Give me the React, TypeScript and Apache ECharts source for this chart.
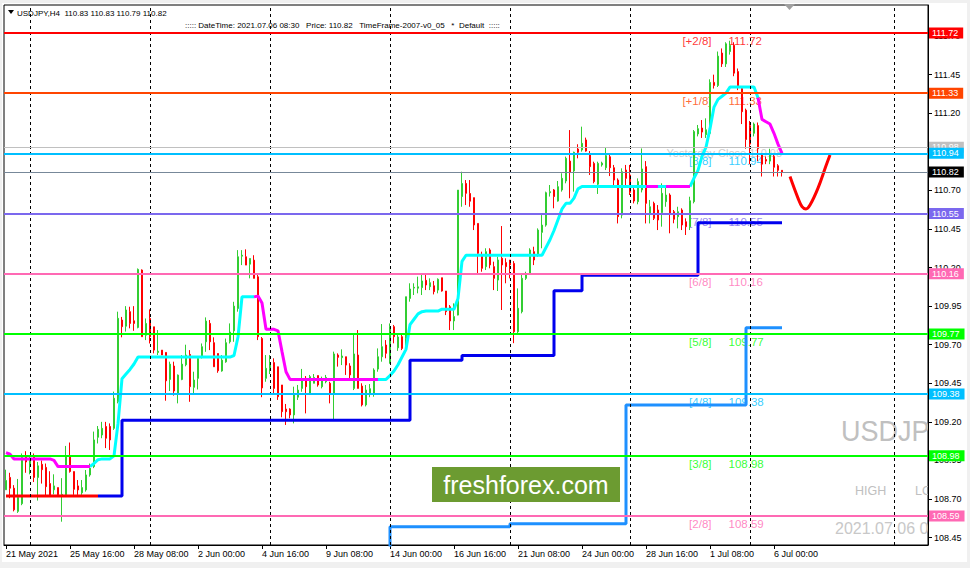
import React, { useEffect, useRef } from "react";
import * as echarts from "echarts";

// ---------- data ----------
const headerLine = "USDJPY,H4  110.83 110.83 110.79 110.82";
const infoLine = "::::: DateTime: 2021.07.06 08:30   Price: 110.82   TimeFrame-2007-v0_05   *  Default  :::::";
const watermarkSymbol = "USDJPY";
const watermarkHigh = "HIGH";
const watermarkLow = "LOW";
const watermarkTime = "2021.07.06 08:30";
const logoText = "freshforex.com";

const tickLabels = [
  "21 May 2021", "25 May 16:00", "28 May 08:00", "2 Jun 00:00", "4 Jun 16:00",
  "9 Jun 08:00", "14 Jun 00:00", "16 Jun 16:00", "21 Jun 08:00", "24 Jun 00:00",
  "28 Jun 16:00", "1 Jul 08:00", "6 Jul 00:00",
];
const barsPerTick = 16;
const futureBars = 36;
const weeklyGridBars = [6, 36, 66, 96, 126, 156, 186, 222];
const yTicks = [108.45, 108.7, 108.95, 109.2, 109.45, 109.7, 109.95, 110.2, 110.45, 110.7, 110.95, 111.2, 111.45, 111.7];
const yMin = 108.402;
const yMax = 111.9015;

// [open, close, low, high]
const ohlc: number[][] = [
  [108.76,108.82,108.76,108.89],[108.84,108.77,108.705,108.87],[108.77,108.63,108.62,108.79],[108.62,108.71,108.61,108.83],
  [108.67,108.97,108.66,108.995],[108.975,108.94,108.87,109.01],[108.92,108.96,108.86,108.985],[108.98,108.84,108.81,108.995],
  [108.84,108.915,108.69,108.94],[108.925,108.89,108.8,108.95],[108.905,108.78,108.716,108.93],[108.8,108.725,108.716,108.88],
  [108.76,108.785,108.73,108.86],[108.774,108.727,108.716,108.774],[108.72,108.73,108.553,108.835],[108.727,108.975,108.72,109.044],
  [108.975,108.878,108.871,109.066],[108.878,108.763,108.727,108.878],[108.785,108.759,108.727,108.823],[108.74,108.774,108.727,108.823],
  [108.759,108.856,108.748,108.888],[108.856,108.9,108.845,108.93],[108.91,109.083,108.9,109.137],[109.1,109.152,109.06,109.173],
  [109.115,109.158,109.094,109.2],[109.17,109.094,109.03,109.2],[109.17,109.083,109.018,109.19],[109.158,109.353,109.148,109.396],
  [109.331,109.871,109.32,109.914],[109.86,109.817,109.748,109.88],[109.82,109.925,109.785,109.95],[109.914,109.838,109.806,109.946],
  [109.855,109.838,109.79,109.95],[109.812,110.188,109.806,110.194],[110.184,109.752,109.752,110.188],[109.762,109.838,109.73,109.87],
  [109.87,109.752,109.708,109.929],[109.816,109.665,109.644,109.816],[109.65,109.658,109.633,109.795],[109.665,109.633,109.633,109.665],
  [109.65,109.466,109.337,109.65],[109.475,109.574,109.4,109.59],[109.562,109.4,109.37,109.59],[109.384,109.503,109.32,109.507],
  [109.475,109.574,109.47,109.633],[109.57,109.633,109.56,109.7],[109.637,109.428,109.33,109.665],[109.424,109.471,109.384,109.525],
  [109.482,109.611,109.41,109.618],[109.618,109.687,109.611,109.708],[109.719,109.853,109.654,109.877],[109.838,109.719,109.665,109.86],
  [109.713,109.557,109.557,109.748],[109.643,109.531,109.518,109.643],[109.53,109.6,109.525,109.633],[109.589,109.713,109.583,109.74],
  [109.719,109.782,109.708,109.838],[109.79,109.95,109.719,109.978],[109.935,110.27,109.914,110.313],[110.274,110.28,110.216,110.313],
  [110.27,110.216,110.216,110.318],[110.222,110.259,110.13,110.259],[110.248,110.13,110.13,110.28],[110.14,109.752,109.73,110.162],
  [109.74,109.42,109.36,109.75],[109.482,109.547,109.46,109.633],[109.547,109.58,109.51,109.633],[109.584,109.417,109.385,109.612],
  [109.557,109.363,109.342,109.557],[109.439,109.266,109.23,109.439],[109.283,109.266,109.18,109.316],[109.283,109.245,109.223,109.288],
  [109.245,109.374,109.19,109.428],[109.36,109.406,109.342,109.439],[109.417,109.476,109.395,109.543],[109.482,109.428,109.255,109.497],
  [109.385,109.493,109.374,109.504],[109.45,109.488,109.45,109.51],[109.5,109.439,109.428,109.5],[109.428,109.471,109.417,109.493],
  [109.46,109.488,109.45,109.504],[109.45,109.385,109.32,109.46],[109.385,109.64,109.218,109.655],[109.633,109.618,109.558,109.644],
  [109.616,109.627,109.568,109.67],[109.622,109.568,109.504,109.622],[109.562,109.504,109.471,109.58],[109.417,109.64,109.406,109.774],
  [109.633,109.417,109.417,109.795],[109.432,109.31,109.3,109.45],[109.31,109.406,109.3,109.439],[109.385,109.415,109.36,109.445],
  [109.385,109.536,109.363,109.547],[109.542,109.622,109.525,109.676],[109.622,109.687,109.59,109.834],[109.698,109.644,109.612,109.73],
  [109.579,109.817,109.579,109.838],[109.817,109.752,109.709,109.828],[109.68,109.75,109.66,109.77],[109.752,109.676,109.665,109.773],
  [109.74,110.011,109.687,110.011],[110.0,110.061,109.979,110.098],[110.067,110.072,110.022,110.098],[110.066,110.075,110.033,110.141],
  [110.07,110.113,110.022,110.152],[110.117,110.087,110.054,110.152],[110.076,110.102,110.054,110.13],[110.082,110.044,110.026,110.113],
  [110.054,110.124,110.033,110.13],[110.134,110.048,110.044,110.134],[110.048,109.914,109.892,110.048],[109.946,109.854,109.795,109.957],
  [109.854,109.882,109.795,109.968],[109.892,110.702,109.89,110.702],[110.66,110.745,110.594,110.821],[110.745,110.681,110.605,110.767],
  [110.68,110.63,110.594,110.767],[110.653,110.476,110.443,110.653],[110.486,110.292,110.162,110.486],[110.28,110.195,110.173,110.303],
  [110.206,110.303,110.184,110.325],[110.314,110.217,110.195,110.325],[110.206,110.13,110.054,110.238],[110.119,110.249,110.048,110.27],
  [110.26,110.217,109.925,110.469],[110.232,110.206,110.098,110.26],[110.249,110.217,110.13,110.249],[110.227,109.784,109.71,110.242],
  [109.784,109.936,109.774,110.065],[109.914,110.13,109.903,110.152],[110.13,110.152,110.12,110.173],[110.162,110.314,110.152,110.325],
  [110.303,110.249,110.216,110.335],[110.281,110.443,110.27,110.454],[110.428,110.475,110.325,110.54],[110.475,110.685,110.465,110.692],
  [110.685,110.692,110.66,110.735],[110.703,110.66,110.584,110.709],[110.631,110.724,110.627,110.761],[110.703,110.778,110.692,110.811],
  [110.761,110.908,110.746,110.919],[110.89,110.817,110.649,111.091],[110.826,110.947,110.692,110.951],[110.968,110.947,110.908,110.999],
  [110.962,111.005,110.951,111.113],[111.027,110.955,110.951,111.042],[110.934,110.854,110.8,110.955],[110.875,110.757,110.746,110.886],
  [110.74,110.875,110.677,110.886],[110.865,110.877,110.854,110.886],[110.847,110.925,110.832,110.977],[110.918,110.847,110.793,110.934],
  [110.847,110.767,110.735,110.865],[110.767,110.53,110.486,110.778],[110.54,110.821,110.519,110.843],[110.832,110.778,110.724,110.865],
  [110.8,110.687,110.67,110.865],[110.703,110.631,110.616,110.724],[110.627,110.757,110.61,110.778],[110.703,110.839,110.687,110.972],
  [110.854,110.616,110.486,110.89],[110.551,110.594,110.486,110.638],[110.616,110.519,110.508,110.627],[110.573,110.508,110.443,110.605],
  [110.556,110.681,110.465,110.746],[110.627,110.67,110.594,110.724],[110.67,110.552,110.422,110.681],[110.562,110.513,110.487,110.573],
  [110.53,110.562,110.454,110.594],[110.573,110.476,110.443,110.584],[110.497,110.465,110.411,110.519],[110.465,110.633,110.443,110.659],
  [110.627,111.081,110.616,111.091],[111.066,111.1,111.05,111.124],[111.104,111.078,111.04,111.156],[111.061,111.093,111.04,111.167],
  [111.07,111.4,111.05,111.42],[111.4,111.38,111.36,111.45],[111.38,111.57,111.37,111.6],[111.59,111.52,111.5,111.62],
  [111.52,111.65,111.5,111.66],[111.6,111.64,111.58,111.67],[111.64,111.46,111.44,111.66],[111.47,111.37,111.35,111.49],
  [111.36,111.21,111.13,111.37],[111.22,111.03,110.97,111.23],[111.12,111.0,110.87,111.15],[111.07,111.13,111.05,111.14],
  [111.12,110.97,110.89,111.14],[110.93,110.87,110.79,110.94],[110.9,110.89,110.87,110.92],[110.89,110.94,110.87,110.97],
  [110.92,110.85,110.79,110.93],[110.86,110.83,110.79,110.87],[110.83,110.82,110.79,110.83],
];

// trailing trend-stop line, one value per bar
const trendStop: number[] = [
  109.0, 108.99,
  108.96, 108.96, 108.96, 108.96, 108.96, 108.96, 108.96, 108.96, 108.96, 108.96,
  108.95,
  108.91, 108.91, 108.91, 108.91, 108.91, 108.91, 108.91, 108.91,
  108.91, 108.93, 108.955, 108.96, 108.96, 108.96, 108.98, 109.19, 109.48, 109.51, 109.54, 109.575,
  109.62, 109.62, 109.62, 109.62, 109.62, 109.62, 109.62, 109.62, 109.62, 109.62, 109.62, 109.62,
  109.62, 109.62, 109.62, 109.62, 109.62, 109.62, 109.62, 109.62, 109.62, 109.62, 109.62, 109.62,
  109.63, 109.75, 110.01, 110.01, 110.01, 110.01, 110.015, 109.97,
  109.8, 109.8, 109.8, 109.79, 109.655, 109.525,
  109.475, 109.475, 109.475, 109.475, 109.475, 109.475, 109.475, 109.475, 109.475, 109.475,
  109.475, 109.475, 109.475, 109.475, 109.475, 109.475, 109.475, 109.475, 109.475, 109.475,
  109.475, 109.475, 109.475, 109.475, 109.475,
  109.5, 109.53, 109.57, 109.62, 109.67, 109.83, 109.865, 109.9, 109.914,
  109.918, 109.918, 109.918, 109.918, 109.93, 109.93, 109.93, 109.93,
  110.0, 110.24,
  110.28, 110.28, 110.28, 110.28, 110.28, 110.28, 110.28, 110.28, 110.28, 110.28,
  110.28, 110.28, 110.28, 110.28, 110.28, 110.28, 110.28, 110.28, 110.28, 110.28,
  110.33, 110.38, 110.44, 110.51, 110.58, 110.616, 110.616, 110.65, 110.71,
  110.725, 110.725, 110.725, 110.725, 110.725, 110.725, 110.725, 110.725, 110.725, 110.725,
  110.725, 110.725, 110.725, 110.725, 110.725, 110.725, 110.725, 110.725, 110.725, 110.725,
  110.725, 110.725, 110.725, 110.725, 110.725, 110.725, 110.725, 110.725,
  110.78, 110.83, 110.92, 110.98, 111.1, 111.24, 111.29, 111.31, 111.33,
  111.37, 111.37, 111.37, 111.37, 111.37, 111.37, 111.37,
  111.3, 111.16, 111.145, 111.13, 111.07, 111.0, 110.94,
];
// [firstBar, lastBar, direction]
const trendSegments: [number, number, string][] = [
  [0, 21, "down"], [21, 62, "up"], [62, 93, "down"], [93, 160, "up"], [160, 163, "down"],
  [163, 165, "up"], [165, 171, "down"], [171, 188, "up"], [188, 194, "down"],
];

// step lines: [bar, value]
const redSupport: number[][] = [[0, 108.72], [23, 108.72]];
const blueSupport: number[][] = [[23, 108.72], [29, 109.21], [101, 109.6], [114, 109.63], [137, 110.05], [144, 110.15], [173, 110.49], [194, 110.49]];
const lowerSupport: number[][] = [[95, 108.3], [96, 108.52], [126, 108.54], [155, 109.31], [185, 109.81], [194, 109.81]];

// hand-drawn projection
const projection: number[][] = [[196, 110.79], [198, 110.65], [199, 110.595], [200, 110.58], [201, 110.605], [203, 110.715], [205, 110.86], [206, 110.93]];

const murreyTags = ["[+2/8]", "[+1/8]", "[8/8]", "[7/8]", "[6/8]", "[5/8]", "[4/8]", "[3/8]", "[2/8]"];
const murreyValues = [111.72, 111.33, 110.94, 110.55, 110.16, 109.77, 109.38, 108.98, 108.59];
const yesterdayClose = 110.98;
const bidPrice = 110.82;

// ---------- styles ----------
const murreyColors = ["#ff0000", "#ff4500", "#00bfff", "#7b68ee", "#ff69b4", "#00ff00", "#00bfff", "#00ff00", "#ff69b4"];
const FONT = "'Liberation Sans', Arial, sans-serif";
const UP = "#32cd32";
const DOWN = "#ff0000";

export default function App() {
  const ref = useRef<HTMLDivElement>(null);

  useEffect(() => {
    const el = ref.current;
    if (!el) return;
    const chart = echarts.init(el, undefined, { renderer: "svg" });

    const nCat = ohlc.length + futureBars;
    const categories = Array.from({ length: nCat }, (_, i) => String(i));

    const upLine: (number | null)[] = new Array(nCat).fill(null);
    const downLine: (number | null)[] = new Array(nCat).fill(null);
    trendSegments.forEach(([s, e, dir]) => {
      const arr = dir === "up" ? upLine : downLine;
      for (let i = s; i <= e; i++) arr[i] = trendStop[i];
    });

    const showTick = (index: number) => index % barsPerTick === 0 && index / barsPerTick < tickLabels.length;

    const hlineData: any[] = [];
    hlineData.push({
      yAxis: yesterdayClose,
      lineStyle: { color: "#c0c0c0", width: 1, type: "solid" },
      label: { backgroundColor: "#c0c0c0" },
    });
    murreyValues.forEach((v, i) => {
      hlineData.push({
        yAxis: v,
        lineStyle: { color: murreyColors[i], width: 2, type: "solid" },
        label: { backgroundColor: murreyColors[i] },
      });
    });
    hlineData.push({
      yAxis: bidPrice,
      lineStyle: { color: "#778899", width: 1, type: "solid" },
      label: { backgroundColor: "#000000" },
    });

    const textItems: any[] = [];
    murreyValues.forEach((v, i) => {
      textItems.push({
        value: [177, v],
        label: { show: true, formatter: murreyTags[i], position: "left", distance: 2, offset: [0, 8], color: murreyColors[i], fontSize: 11.5, fontFamily: FONT },
      });
      textItems.push({
        value: [180, v],
        label: { show: true, formatter: v.toFixed(2), position: "right", distance: 2, offset: [0, 8], color: murreyColors[i], fontSize: 11.5, fontFamily: FONT },
      });
    });
    textItems.push({
      value: [165, yesterdayClose],
      label: { show: true, formatter: "Yesterday Close " + yesterdayClose.toFixed(2), position: "right", distance: 0, offset: [0, 6], color: "#c0c0c0", fontSize: 11, fontFamily: FONT },
    });

    const option: any = {
      animation: false,
      backgroundColor: "transparent",
      tooltip: { show: false },
      grid: { left: 4, right: 42, top: 5, bottom: 23, show: true, borderColor: "#000", borderWidth: 1, backgroundColor: "transparent" },
      xAxis: {
        type: "category",
        data: categories,
        boundaryGap: true,
        z: 3,
        axisLine: { show: true, lineStyle: { color: "#000", width: 1 } },
        axisTick: { show: true, interval: showTick, alignWithLabel: true, length: 4, lineStyle: { color: "#000" } },
        axisLabel: {
          show: true,
          interval: showTick,
          formatter: (_v: string, index: number) => tickLabels[index / barsPerTick] ?? "",
          align: "left",
          margin: 4,
          color: "#000",
          fontSize: 9,
          fontFamily: FONT,
        },
        splitLine: { show: false },
      },
      yAxis: {
        type: "value",
        position: "right",
        min: yMin,
        max: yMax,
        z: 3,
        axisLine: { show: true, lineStyle: { color: "#000", width: 1 } },
        axisTick: { show: true, customValues: yTicks, length: 4, lineStyle: { color: "#000" } },
        axisLabel: { show: true, customValues: yTicks, formatter: (v: number) => v.toFixed(2), color: "#000", fontSize: 9, fontFamily: FONT, margin: 6 },
        splitLine: { show: false },
      },
      series: [
        {
          type: "scatter",
          z: 1,
          silent: true,
          symbolSize: 1,
          itemStyle: { color: "transparent" },
          data: textItems,
          markLine: {
            silent: true,
            symbol: ["none", "none"],
            label: { show: false },
            lineStyle: { color: "#000", width: 1, type: [3, 3] },
            data: weeklyGridBars.map((b) => ({ xAxis: b })),
          },
        },
        {
          type: "candlestick",
          z: 2,
          silent: true,
          barWidth: 2,
          data: ohlc,
          itemStyle: { color: UP, color0: DOWN, borderColor: UP, borderColor0: DOWN, borderWidth: 1 },
        },
        { type: "line", z: 4, silent: true, data: upLine, symbol: "none", connectNulls: false, lineStyle: { color: "#00ffff", width: 3 } },
        { type: "line", z: 4, silent: true, data: downLine, symbol: "none", connectNulls: false, lineStyle: { color: "#ff00ff", width: 3 } },
        { type: "line", z: 4, silent: true, data: redSupport, step: "end", symbol: "none", lineStyle: { color: "#ff0000", width: 3 } },
        { type: "line", z: 4, silent: true, data: blueSupport, step: "end", symbol: "none", lineStyle: { color: "#0000ee", width: 3 } },
        { type: "line", z: 4, silent: true, data: lowerSupport, step: "end", symbol: "none", lineStyle: { color: "#1e90ff", width: 3 } },
        { type: "line", z: 4, silent: true, data: projection, smooth: 0.4, symbol: "none", lineStyle: { color: "#ff0000", width: 3 } },
        {
          type: "line",
          z: 6,
          silent: true,
          data: [],
          markLine: {
            silent: true,
            symbol: ["none", "none"],
            label: {
              show: true,
              position: "end",
              distance: 1,
              formatter: (p: any) => Number(p.value).toFixed(2),
              color: "#fff",
              fontSize: 9,
              fontFamily: FONT,
              lineHeight: 10,
              padding: [1, 5, 0, 3],
            },
            data: hlineData,
          },
        },
      ],
      graphic: {
        elements: [
          { type: "text", z: 0, silent: true, x: 841, y: 430, scaleX: 0.9, style: { text: watermarkSymbol, fill: "#c0c0c0", font: `30px ${FONT}`, align: "left", verticalAlign: "middle", textAlign: "left", textVerticalAlign: "middle" } },
          { type: "text", z: 0, silent: true, x: 855, y: 491, style: { text: watermarkHigh, fill: "#c0c0c0", font: `12.5px ${FONT}`, align: "left", verticalAlign: "middle", textAlign: "left", textVerticalAlign: "middle" } },
          { type: "text", z: 0, silent: true, x: 915, y: 491, style: { text: watermarkLow, fill: "#c0c0c0", font: `12.5px ${FONT}`, align: "left", verticalAlign: "middle", textAlign: "left", textVerticalAlign: "middle" } },
          { type: "text", z: 0, silent: true, x: 835, y: 528, style: { text: watermarkTime, fill: "#c8c8c8", font: `16px ${FONT}`, align: "left", verticalAlign: "middle", textAlign: "left", textVerticalAlign: "middle" } },
          { type: "rect", z: 1, silent: true, shape: { x: 929, y: 6, width: 38, height: 539 }, style: { fill: "#ffffff" } },
          { type: "polygon", z: 7, silent: true, shape: { points: [[8, 10], [14, 10], [11, 14]] }, style: { fill: "#000" } },
          { type: "text", z: 7, silent: true, x: 17, y: 13, style: { text: headerLine, fill: "#000", font: `8px ${FONT}`, align: "left", verticalAlign: "middle", textAlign: "left", textVerticalAlign: "middle" } },
          { type: "text", z: 7, silent: true, x: 185, y: 25, style: { text: infoLine, fill: "#000", font: `8px ${FONT}`, align: "left", verticalAlign: "middle", textAlign: "left", textVerticalAlign: "middle" } },
          { type: "polygon", z: 7, silent: true, shape: { points: [[784, 4], [795, 4], [789.5, 10]] }, style: { fill: "#a0a0a0" } },
          { type: "rect", z: 7, silent: true, shape: { x: 432, y: 467, width: 188, height: 35 }, style: { fill: "#6c9b31" } },
          { type: "text", z: 8, silent: true, x: 526, y: 485, style: { text: logoText, fill: "#ffffff", font: `25px ${FONT}`, align: "center", verticalAlign: "middle", textAlign: "center", textVerticalAlign: "middle" } },
        ],
      },
    };

    chart.setOption(option);
    return () => chart.dispose();
  }, []);

  return (
    <div style={{ position: "fixed", left: 0, top: 0, width: 970, height: 568, background: "#f0f0f0", overflow: "hidden" }}>
      <div style={{ position: "absolute", left: 2, top: 3, width: 965, height: 559, background: "#ffffff" }} />
      <div ref={ref} style={{ position: "absolute", left: 0, top: 0, width: 970, height: 568 }} />
    </div>
  );
}
